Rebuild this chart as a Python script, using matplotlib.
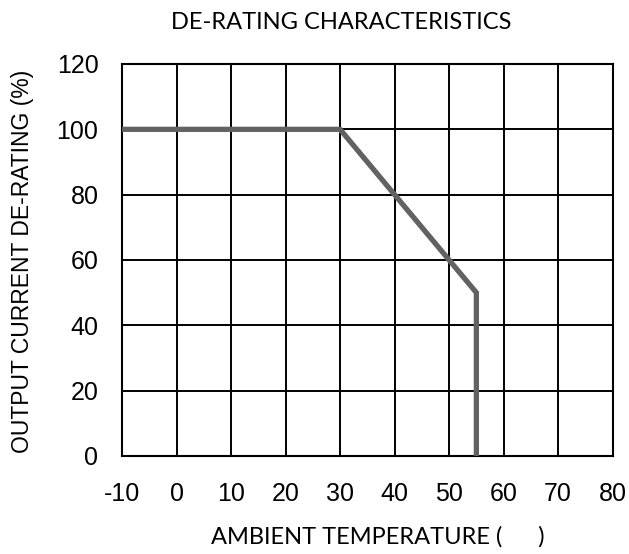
"""De-rating characteristics chart."""

from matplotlib import pyplot as plt

# Data
temps = [-10, 30, 55, 55]
current_pct = [100, 100, 50, 0]
x_ticks = [-10, 0, 10, 20, 30, 40, 50, 60, 70, 80]
y_ticks = [0, 20, 40, 60, 80, 100, 120]

fig = plt.figure(figsize=(6.29, 5.54), dpi=100)
ax = fig.add_axes([0.194, 0.1769, 0.780, 0.7076])

ax.plot(temps, current_pct, color="#626262", lw=3.8, solid_capstyle="butt",
        solid_joinstyle="miter", zorder=3)

ax.set_xlim(-10, 80)
ax.set_ylim(0, 120)
ax.set_xticks(x_ticks, [str(v) for v in x_ticks], family="Liberation Sans",
              fontsize=18)
ax.set_yticks(y_ticks, [str(v) for v in y_ticks], family="Liberation Sans",
              fontsize=18)
ax.grid(True, color="black", lw=1.4)
ax.tick_params(axis="x", length=0, pad=19)
ax.tick_params(axis="y", length=0, pad=17)
for sp in ax.spines.values():
    sp.set_color("black")
    sp.set_linewidth(1.5)

# axis titles placed on the figure to match the reference offsets
fig.text(0.036, 0.529, "OUTPUT CURRENT DE-RATING (%)", family="Liberation Sans",
         fontsize=16.5, rotation=90, ha="center", va="center")
fig.text(0.601, 0.031, "AMBIENT TEMPERATURE (      )", family="Lato",
         fontsize=17, ha="center", va="center")
fig.text(0.542, 0.960, "DE-RATING CHARACTERISTICS", family="Lato",
         fontsize=17, ha="center", va="center")

fig.savefig("out.png", dpi=100, facecolor="white")
